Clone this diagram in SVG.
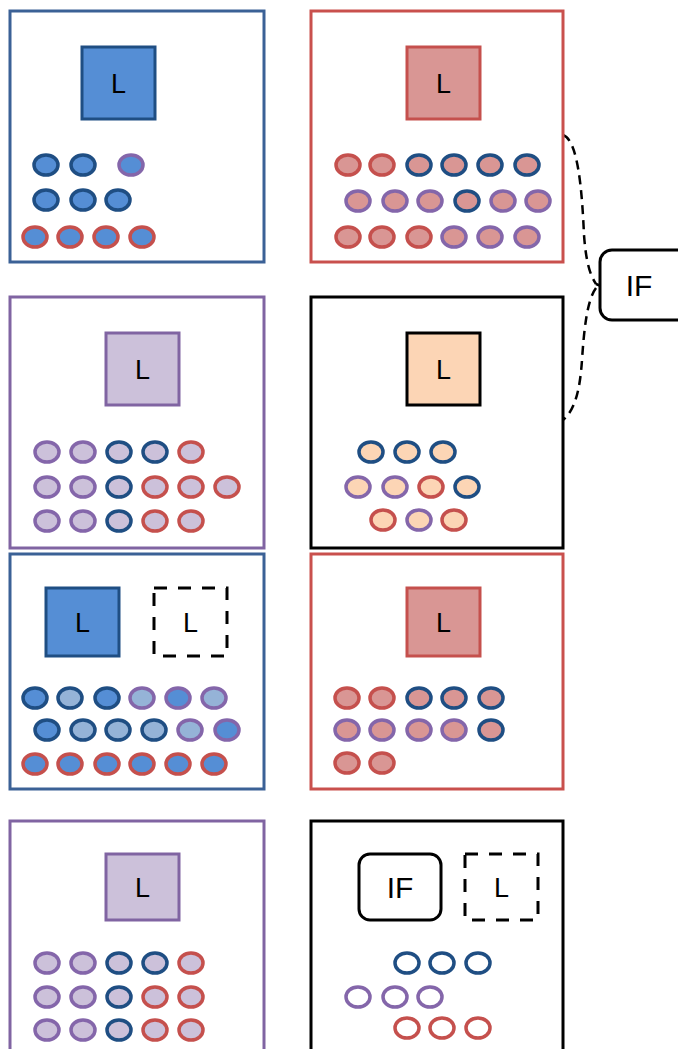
<svg xmlns="http://www.w3.org/2000/svg" width="678" height="1049" viewBox="0 0 678 1049">
<style>
.panel{fill:#fff;stroke-width:3}
.pb{stroke:#3b6196}.pr{stroke:#c9504d}.pp{stroke:#8064a2}.pk{stroke:#000}
.sq{stroke-width:3}
.dash{fill:#fff;stroke:#000;stroke-width:3;stroke-dasharray:13 11}
.t{font-family:"Liberation Sans",Arial,sans-serif;font-size:27px;fill:#000;text-anchor:middle}
.ti{font-family:"Liberation Sans",Arial,sans-serif;font-size:30px;fill:#000;text-anchor:middle}
ellipse{stroke-width:3.5}
.b{stroke:#1f4e83}.r{stroke:#c5504d}.p{stroke:#8466aa}
.fb{fill:#558ed5}.fl{fill:#95b3d7}.fr{fill:#d99694}.fp{fill:#ccc1da}.fo{fill:#fcd5b5}.fn{fill:#fff}
</style>
<rect width="678" height="1049" fill="#fff"/>
<g id="connectors">
<path d="M563,135 C578,140 582,190 584,235 C586,262 590,275 596,284 M596,284 L601,286 M596,288 C587,300 584,330 582,360 C580,390 575,410 563,420" fill="none" stroke="#000" stroke-width="2.5" stroke-dasharray="9 6"/>
</g>
<g id="if-node">
<rect x="600" y="250" width="90" height="70" rx="12" fill="#fff" stroke="#000" stroke-width="3"/>
<text class="ti" x="639" y="296">IF</text>
</g>
<g id="panel1">
<rect class="panel pb" x="10" y="11" width="254" height="251"/>
<rect class="sq fb" stroke="#1f4e83" x="82" y="47" width="73" height="72"/>
<text class="t" x="118.5" y="93">L</text>
<ellipse class="b fb" cx="46" cy="165" rx="12" ry="10"/><ellipse class="b fb" cx="83" cy="165" rx="12" ry="10"/><ellipse class="p fb" cx="131" cy="165" rx="12" ry="10"/>
<ellipse class="b fb" cx="46" cy="200" rx="12" ry="10"/><ellipse class="b fb" cx="83" cy="200" rx="12" ry="10"/><ellipse class="b fb" cx="118" cy="200" rx="12" ry="10"/>
<ellipse class="r fb" cx="35" cy="237" rx="12" ry="10"/><ellipse class="r fb" cx="70" cy="237" rx="12" ry="10"/><ellipse class="r fb" cx="106" cy="237" rx="12" ry="10"/><ellipse class="r fb" cx="142" cy="237" rx="12" ry="10"/>
</g>
<g id="panel2">
<rect class="panel pr" x="311" y="11" width="252" height="251"/>
<rect class="sq fr" stroke="#c5504d" x="407" y="47" width="73" height="72"/>
<text class="t" x="443.5" y="93">L</text>
<ellipse class="r fr" cx="348" cy="165" rx="12" ry="10"/><ellipse class="r fr" cx="382" cy="165" rx="12" ry="10"/><ellipse class="b fr" cx="419" cy="165" rx="12" ry="10"/><ellipse class="b fr" cx="454" cy="165" rx="12" ry="10"/><ellipse class="b fr" cx="490" cy="165" rx="12" ry="10"/><ellipse class="b fr" cx="527" cy="165" rx="12" ry="10"/>
<ellipse class="p fr" cx="358" cy="201" rx="12" ry="10"/><ellipse class="p fr" cx="395" cy="201" rx="12" ry="10"/><ellipse class="p fr" cx="430" cy="201" rx="12" ry="10"/><ellipse class="b fr" cx="467" cy="201" rx="12" ry="10"/><ellipse class="p fr" cx="503" cy="201" rx="12" ry="10"/><ellipse class="p fr" cx="538" cy="201" rx="12" ry="10"/>
<ellipse class="r fr" cx="348" cy="237" rx="12" ry="10"/><ellipse class="r fr" cx="382" cy="237" rx="12" ry="10"/><ellipse class="r fr" cx="419" cy="237" rx="12" ry="10"/><ellipse class="p fr" cx="454" cy="237" rx="12" ry="10"/><ellipse class="p fr" cx="490" cy="237" rx="12" ry="10"/><ellipse class="p fr" cx="527" cy="237" rx="12" ry="10"/>
</g>
<g id="panel3">
<rect class="panel pp" x="10" y="297" width="254" height="251"/>
<rect class="sq fp" stroke="#8064a2" x="106" y="333" width="73" height="72"/>
<text class="t" x="142.5" y="379">L</text>
<ellipse class="p fp" cx="47" cy="452" rx="12" ry="10"/><ellipse class="p fp" cx="83" cy="452" rx="12" ry="10"/><ellipse class="b fp" cx="119" cy="452" rx="12" ry="10"/><ellipse class="b fp" cx="155" cy="452" rx="12" ry="10"/><ellipse class="r fp" cx="191" cy="452" rx="12" ry="10"/>
<ellipse class="p fp" cx="47" cy="487" rx="12" ry="10"/><ellipse class="p fp" cx="83" cy="487" rx="12" ry="10"/><ellipse class="b fp" cx="119" cy="487" rx="12" ry="10"/><ellipse class="r fp" cx="155" cy="487" rx="12" ry="10"/><ellipse class="r fp" cx="191" cy="487" rx="12" ry="10"/><ellipse class="r fp" cx="227" cy="487" rx="12" ry="10"/>
<ellipse class="p fp" cx="47" cy="521" rx="12" ry="10"/><ellipse class="p fp" cx="83" cy="521" rx="12" ry="10"/><ellipse class="b fp" cx="119" cy="521" rx="12" ry="10"/><ellipse class="r fp" cx="155" cy="521" rx="12" ry="10"/><ellipse class="r fp" cx="191" cy="521" rx="12" ry="10"/>
</g>
<g id="panel4">
<rect class="panel pk" x="311" y="297" width="252" height="251"/>
<rect class="sq fo" stroke="#000" x="407" y="333" width="73" height="72"/>
<text class="t" x="443.5" y="379">L</text>
<ellipse class="b fo" cx="371" cy="452" rx="12" ry="10"/><ellipse class="b fo" cx="407" cy="452" rx="12" ry="10"/><ellipse class="b fo" cx="443" cy="452" rx="12" ry="10"/>
<ellipse class="p fo" cx="358" cy="487" rx="12" ry="10"/><ellipse class="p fo" cx="395" cy="487" rx="12" ry="10"/><ellipse class="r fo" cx="431" cy="487" rx="12" ry="10"/><ellipse class="b fo" cx="467" cy="487" rx="12" ry="10"/>
<ellipse class="r fo" cx="383" cy="520" rx="12" ry="10"/><ellipse class="p fo" cx="419" cy="520" rx="12" ry="10"/><ellipse class="r fo" cx="454" cy="520" rx="12" ry="10"/>
</g>
<g id="panel5">
<rect class="panel pb" x="10" y="554" width="254" height="235"/>
<rect class="sq fb" stroke="#1f4e83" x="46" y="588" width="73" height="68"/>
<text class="t" x="82.5" y="632">L</text>
<rect class="dash" x="154" y="588" width="73" height="68"/>
<text class="t" x="190.5" y="632">L</text>
<ellipse class="b fb" cx="35" cy="698" rx="12" ry="10"/><ellipse class="b fl" cx="70" cy="698" rx="12" ry="10"/><ellipse class="b fb" cx="107" cy="698" rx="12" ry="10"/><ellipse class="p fl" cx="142" cy="698" rx="12" ry="10"/><ellipse class="p fb" cx="178" cy="698" rx="12" ry="10"/><ellipse class="p fl" cx="214" cy="698" rx="12" ry="10"/>
<ellipse class="b fb" cx="47" cy="730" rx="12" ry="10"/><ellipse class="b fl" cx="83" cy="730" rx="12" ry="10"/><ellipse class="b fl" cx="118" cy="730" rx="12" ry="10"/><ellipse class="b fl" cx="154" cy="730" rx="12" ry="10"/><ellipse class="p fl" cx="190" cy="730" rx="12" ry="10"/><ellipse class="p fb" cx="227" cy="730" rx="12" ry="10"/>
<ellipse class="r fb" cx="35" cy="764" rx="12" ry="10"/><ellipse class="r fb" cx="70" cy="764" rx="12" ry="10"/><ellipse class="r fb" cx="107" cy="764" rx="12" ry="10"/><ellipse class="r fb" cx="142" cy="764" rx="12" ry="10"/><ellipse class="r fb" cx="178" cy="764" rx="12" ry="10"/><ellipse class="r fb" cx="214" cy="764" rx="12" ry="10"/>
</g>
<g id="panel6">
<rect class="panel pr" x="311" y="554" width="252" height="235"/>
<rect class="sq fr" stroke="#c5504d" x="407" y="588" width="73" height="68"/>
<text class="t" x="443.5" y="632">L</text>
<ellipse class="r fr" cx="347" cy="698" rx="12" ry="10"/><ellipse class="r fr" cx="382" cy="698" rx="12" ry="10"/><ellipse class="b fr" cx="419" cy="698" rx="12" ry="10"/><ellipse class="b fr" cx="454" cy="698" rx="12" ry="10"/><ellipse class="b fr" cx="491" cy="698" rx="12" ry="10"/>
<ellipse class="p fr" cx="347" cy="730" rx="12" ry="10"/><ellipse class="p fr" cx="382" cy="730" rx="12" ry="10"/><ellipse class="p fr" cx="419" cy="730" rx="12" ry="10"/><ellipse class="p fr" cx="454" cy="730" rx="12" ry="10"/><ellipse class="b fr" cx="491" cy="730" rx="12" ry="10"/>
<ellipse class="r fr" cx="347" cy="763" rx="12" ry="10"/><ellipse class="r fr" cx="382" cy="763" rx="12" ry="10"/>
</g>
<g id="panel7">
<rect class="panel pp" x="10" y="821" width="254" height="240"/>
<rect class="sq fp" stroke="#8064a2" x="106" y="854" width="73" height="66"/>
<text class="t" x="142.5" y="897">L</text>
<ellipse class="p fp" cx="47" cy="963" rx="12" ry="10"/><ellipse class="p fp" cx="83" cy="963" rx="12" ry="10"/><ellipse class="b fp" cx="119" cy="963" rx="12" ry="10"/><ellipse class="b fp" cx="155" cy="963" rx="12" ry="10"/><ellipse class="r fp" cx="191" cy="963" rx="12" ry="10"/>
<ellipse class="p fp" cx="47" cy="997" rx="12" ry="10"/><ellipse class="p fp" cx="83" cy="997" rx="12" ry="10"/><ellipse class="b fp" cx="119" cy="997" rx="12" ry="10"/><ellipse class="r fp" cx="155" cy="997" rx="12" ry="10"/><ellipse class="r fp" cx="191" cy="997" rx="12" ry="10"/>
<ellipse class="p fp" cx="47" cy="1030" rx="12" ry="10"/><ellipse class="p fp" cx="83" cy="1030" rx="12" ry="10"/><ellipse class="b fp" cx="119" cy="1030" rx="12" ry="10"/><ellipse class="r fp" cx="155" cy="1030" rx="12" ry="10"/><ellipse class="r fp" cx="191" cy="1030" rx="12" ry="10"/>
</g>
<g id="panel8">
<rect class="panel pk" x="311" y="821" width="252" height="240"/>
<rect x="359" y="854" width="82" height="66" rx="11" fill="#fff" stroke="#000" stroke-width="3"/>
<text class="ti" x="400" y="898">IF</text>
<rect class="dash" x="465" y="854" width="73" height="66"/>
<text class="t" x="501.5" y="897">L</text>
<ellipse class="b fn" cx="407" cy="963" rx="12" ry="10"/><ellipse class="b fn" cx="442" cy="963" rx="12" ry="10"/><ellipse class="b fn" cx="478" cy="963" rx="12" ry="10"/>
<ellipse class="p fn" cx="358" cy="997" rx="12" ry="10"/><ellipse class="p fn" cx="395" cy="997" rx="12" ry="10"/><ellipse class="p fn" cx="430" cy="997" rx="12" ry="10"/>
<ellipse class="r fn" cx="407" cy="1028" rx="12" ry="10"/><ellipse class="r fn" cx="442" cy="1028" rx="12" ry="10"/><ellipse class="r fn" cx="478" cy="1028" rx="12" ry="10"/>
</g>
</svg>
